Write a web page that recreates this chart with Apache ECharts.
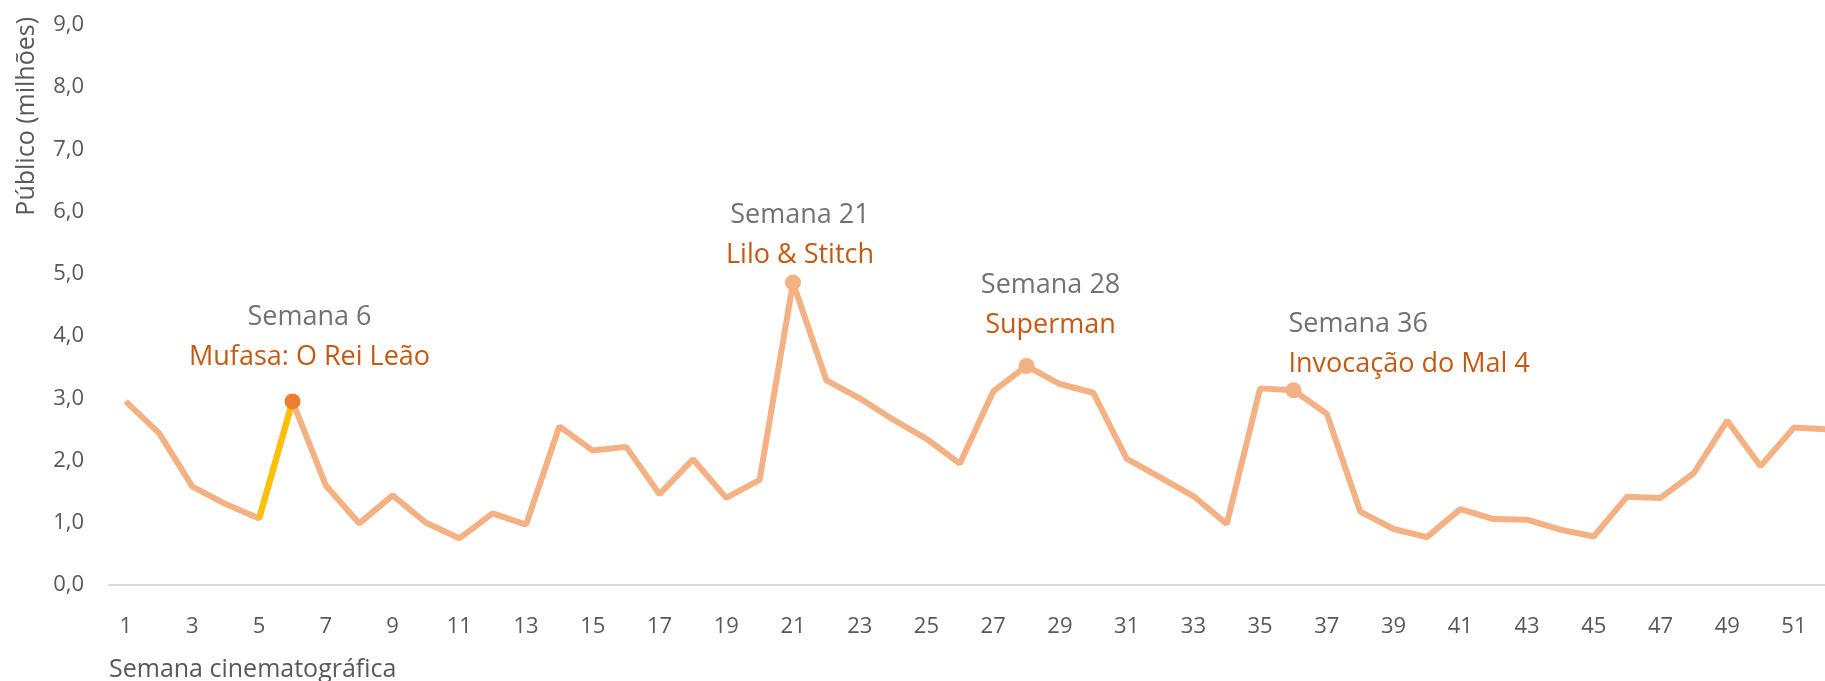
<!DOCTYPE html>
<html lang="pt-BR">

<head>
    <meta charset="utf-8" />
    <title>Público semanal</title>
    <script src="https://cdn.jsdelivr.net/npm/echarts@6.0.0/dist/echarts.min.js"></script>
    <style>
        html, body { margin: 0; padding: 0; background: #fff; }
        #chart { width: 1825px; height: 681px; }
    </style>
</head>

<body>
    <div id="chart"></div>
    <script type="text/javascript">
        // semanas cinematográficas 1..52
        var weeks = [];
        for (var w = 1; w <= 52; w++) weeks.push(String(w));

        // público (milhões)
        var publico = [
            2.95, 2.44, 1.58, 1.30, 1.07, 2.95, 1.60, 0.99, 1.44, 1.00,
            0.75, 1.15, 0.97, 2.55, 2.16, 2.22, 1.46, 2.02, 1.40, 1.69,
            4.86, 3.29, 3.00, 2.66, 2.35, 1.95, 3.11, 3.52, 3.23, 3.09,
            2.03, 1.73, 1.43, 0.98, 3.16, 3.13, 2.75, 1.18, 0.90, 0.77,
            1.22, 1.06, 1.05, 0.89, 0.78, 1.42, 1.40, 1.80, 2.64, 1.91,
            2.53, 2.50
        ];

        // destaques: semana -> filme
        var highlightWeeks = [6, 21, 28, 36];
        var highlightFilms = ['Mufasa: O Rei Leão', 'Lilo & Stitch', 'Superman', 'Invocação do Mal 4'];

        var yTicks = [0, 1, 2, 3, 4, 5, 6, 7, 8, 9];

        var lineColor = '#F4B183';
        var fontFamily = '"Open Sans", "Noto Sans", sans-serif';

        // posição dos rótulos (ajuste fino)
        var labelOffsets = {
            6: { offset: [17, -11], align: 'center' },
            21: { offset: [7, 6], align: 'center' },
            28: { offset: [24, -8], align: 'center' },
            36: { offset: [-5, 7], align: 'left' }
        };

        function highlightItem(i) {
            var week = i + 1;
            var idx = highlightWeeks.indexOf(week);
            var lo = labelOffsets[week];
            return {
                value: publico[i],
                symbol: 'circle',
                symbolSize: 16,
                itemStyle: { color: week === 6 ? '#ED7D31' : lineColor },
                label: {
                    show: true,
                    position: 'top',
                    distance: 5,
                    offset: lo.offset,
                    align: lo.align,
                    formatter: '{a|Semana ' + week + '}\n{b|' + highlightFilms[idx] + '}',
                    rich: {
                        a: { color: '#767171', fontSize: 27, lineHeight: 40, fontFamily: fontFamily, align: lo.align },
                        b: { color: '#C65911', fontSize: 27, lineHeight: 40, fontFamily: fontFamily, align: lo.align }
                    }
                }
            };
        }

        // linha principal (semana 6 fica na série do trecho destacado)
        var mainData = publico.map(function (v, i) {
            var week = i + 1;
            if (highlightWeeks.indexOf(week) < 0 || week === 6) return v;
            return highlightItem(i);
        });

        // trecho destacado: semana 5 -> 6
        var segData = publico.map(function (v, i) {
            if (i === 4) return v;
            if (i === 5) return highlightItem(i);
            return '-';
        });

        var chart = echarts.init(document.getElementById('chart'));
        chart.setOption({
            animation: false,
            grid: { left: 109, width: 1735, top: 25, bottom: 96, outerBoundsMode: 'none', containLabel: false },
            xAxis: {
                type: 'category',
                data: weeks,
                boundaryGap: true,
                axisLine: { lineStyle: { color: '#D9D9D9', width: 2 } },
                axisTick: { show: false },
                axisLabel: { interval: 1, margin: 31, color: '#595959', fontSize: 22, fontFamily: fontFamily }
            },
            yAxis: {
                type: 'value',
                min: yTicks[0],
                max: yTicks[yTicks.length - 1],
                interval: 1,
                axisLine: { show: false },
                axisTick: { show: false },
                splitLine: { show: false },
                axisLabel: {
                    margin: 25,
                    color: '#595959',
                    fontSize: 22,
                    fontFamily: fontFamily,
                    formatter: function (v) { return v.toFixed(1).replace('.', ','); }
                }
            },
            graphic: [
                {
                    type: 'text',
                    left: 109,
                    top: 657,
                    style: { text: 'Semana cinematográfica', fill: '#595959', font: '25px ' + fontFamily }
                },
                {
                    type: 'text',
                    x: 27,
                    y: 17,
                    rotation: Math.PI / 2,
                    style: {
                        text: 'Público (milhões)', fill: '#595959', font: '25px ' + fontFamily,
                        align: 'right', verticalAlign: 'middle'
                    }
                }
            ],
            series: [
                {
                    name: 'Público (milhões)',
                    type: 'line',
                    z: 2,
                    data: mainData,
                    symbol: 'none',
                    showSymbol: true,
                    lineStyle: { color: lineColor, width: 6 },
                    itemStyle: { color: lineColor },
                    silent: true
                },
                {
                    name: 'destaque',
                    type: 'line',
                    z: 3,
                    data: segData,
                    symbol: 'none',
                    showSymbol: true,
                    lineStyle: { color: '#FFC000', width: 6 },
                    silent: true
                }
            ]
        });
    </script>
</body>

</html>
